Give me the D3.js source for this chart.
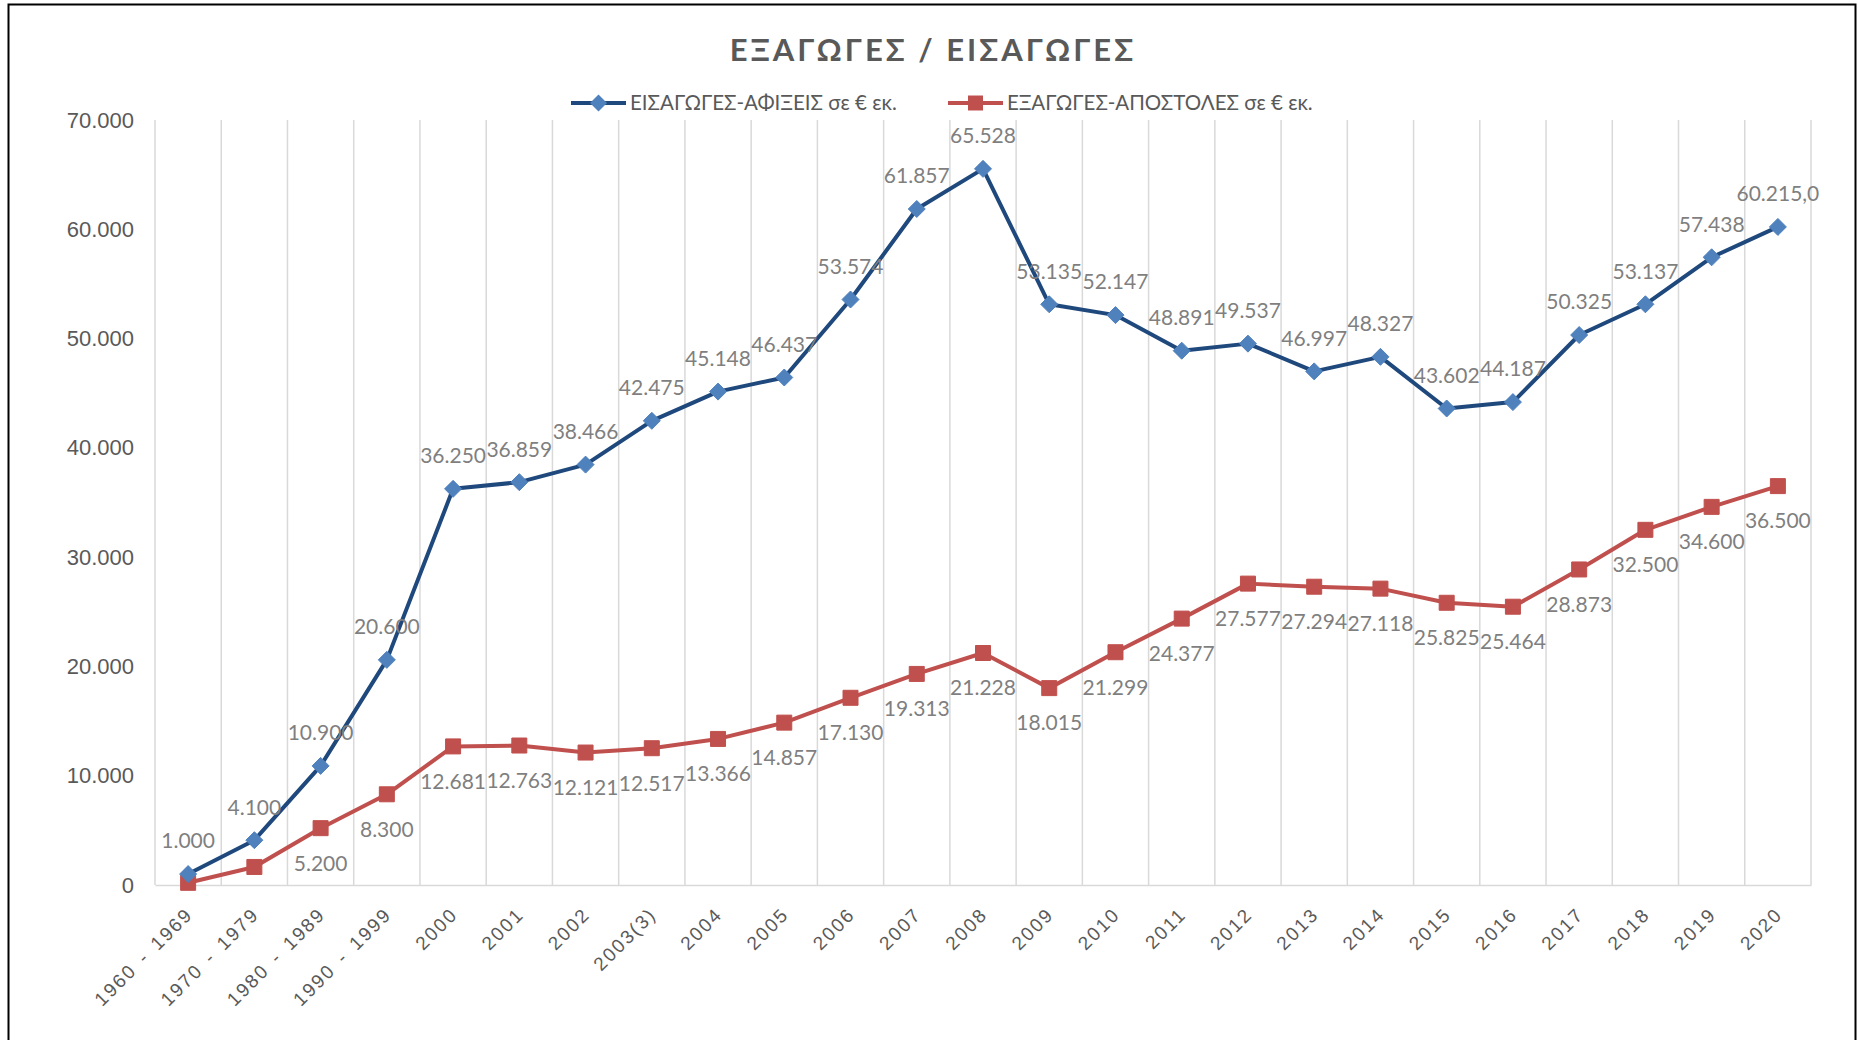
<!DOCTYPE html>
<html>
<head>
<meta charset="utf-8">
<title>ΕΞΑΓΩΓΕΣ / ΕΙΣΑΓΩΓΕΣ</title>
<script src="https://d3js.org/d3.v7.min.js"></script>
<style>
    body { margin: 0; background: #fff; }
    svg { display: block; font-family: Lato, "Open Sans", sans-serif; }
</style>
</head>
<body>
<svg width="1858" height="1040"></svg>
<script>
// ---- data ----
const categories = ["1960 - 1969", "1970 - 1979", "1980 - 1989", "1990 - 1999", "2000", "2001", "2002", "2003(3)",
    "2004", "2005", "2006", "2007", "2008", "2009", "2010", "2011", "2012", "2013", "2014", "2015", "2016",
    "2017", "2018", "2019", "2020"];
const importsValues = [1000, 4100, 10900, 20600, 36250, 36859, 38466, 42475, 45148, 46437, 53574, 61857, 65528,
    53135, 52147, 48891, 49537, 46997, 48327, 43602, 44187, 50325, 53137, 57438, 60215];
const exportsValues = [200, 1650, 5200, 8300, 12681, 12763, 12121, 12517, 13366, 14857, 17130, 19313, 21228,
    18015, 21299, 24377, 27577, 27294, 27118, 25825, 25464, 28873, 32500, 34600, 36500];
const yTicks = [0, 10000, 20000, 30000, 40000, 50000, 60000, 70000];
const importsName = "ΕΙΣΑΓΩΓΕΣ-ΑΦΙΞΕΙΣ σε € εκ.";
const exportsName = "ΕΞΑΓΩΓΕΣ-ΑΠΟΣΤΟΛΕΣ σε € εκ.";
const importsOneDecimal = ["2020"];                 // label shown as 60.215,0
const exportsNoLabel = ["1960 - 1969", "1970 - 1979"];

const el = d3.formatLocale({decimal: ",", thousands: ".", grouping: [3], currency: ["€", ""]});
const fmt0 = el.format(",.0f"), fmt1 = el.format(",.1f");

const svg = d3.select("svg");
const plotLeft = 155, plotRight = 1811, plotTop = 120, plotBottom = 885;
const blue = "#1f497d", blueMark = "#4f81bd", red = "#c0504d";
const grey = "#595959", labelGrey = "#7f7f7f", gridGrey = "#d9d9d9";

// frame
svg.append("rect")
    .attr("x", 8.5).attr("y", 4.5).attr("width", 1847).attr("height", 1060)
    .attr("fill", "none").attr("stroke", "#000").attr("stroke-width", 2);

const x = d3.scaleBand().domain(categories).range([plotLeft, plotRight]);
const y = d3.scaleLinear().domain([0, 70000]).range([plotBottom, plotTop]);
const cx = d => x(d) + x.bandwidth() / 2;

const importsPts = categories.map((c, i) => ({cat: c, v: importsValues[i]}));
const exportsPts = categories.map((c, i) => ({cat: c, v: exportsValues[i]}));

// vertical grid lines at category borders
const borders = categories.map(c => x(c)).concat([plotRight]);
svg.append("g").selectAll("line").data(borders).join("line")
    .attr("x1", d => d).attr("x2", d => d)
    .attr("y1", plotTop).attr("y2", plotBottom)
    .attr("stroke", gridGrey).attr("stroke-width", 1.5);

// x axis
const xAxis = svg.append("g").attr("transform", `translate(0,${plotBottom})`)
    .call(d3.axisBottom(x).tickSize(0).tickPadding(0));
xAxis.select(".domain").attr("stroke", gridGrey).attr("stroke-width", 1.5);
xAxis.selectAll(".tick text")
    .attr("font-size", 19).attr("fill", grey).attr("font-family", null)
    .attr("letter-spacing", 2).attr("word-spacing", 3)
    .attr("text-anchor", "end").attr("y", 0).attr("dy", "0.35em")
    .attr("transform", "translate(1,26) rotate(-45)");

// y axis
const yAxis = svg.append("g").attr("transform", `translate(${plotLeft - 21},0)`)
    .call(d3.axisLeft(y).tickValues(yTicks).tickFormat(fmt0).tickSize(0).tickPadding(0));
yAxis.select(".domain").remove();
yAxis.selectAll(".tick text").attr("font-size", 22).attr("fill", grey).attr("font-family", null);

// lines
const line = d3.line().x(d => cx(d.cat)).y(d => y(d.v));
svg.append("path").attr("d", line(exportsPts))
    .attr("fill", "none").attr("stroke", red).attr("stroke-width", 4).attr("stroke-linejoin", "round");
svg.append("path").attr("d", line(importsPts))
    .attr("fill", "none").attr("stroke", blue).attr("stroke-width", 4).attr("stroke-linejoin", "round");

const diamond = "M0,-8.5L8.5,0L0,8.5L-8.5,0Z";
const square = "M-7.5,-7.5H7.5V7.5H-7.5Z";

svg.append("g").selectAll("path").data(exportsPts).join("path")
    .attr("d", square).attr("fill", red).attr("stroke", red).attr("stroke-width", 1)
    .attr("transform", d => `translate(${cx(d.cat)},${y(d.v)})`);
svg.append("g").selectAll("path").data(importsPts).join("path")
    .attr("d", diamond).attr("fill", blueMark).attr("stroke", blueMark).attr("stroke-width", 1)
    .attr("transform", d => `translate(${cx(d.cat)},${y(d.v)})`);

// data labels
svg.append("g").selectAll("text").data(exportsPts.filter(d => !exportsNoLabel.includes(d.cat))).join("text")
    .attr("x", d => cx(d.cat)).attr("y", d => y(d.v) + 35)
    .attr("dy", "0.35em").attr("text-anchor", "middle")
    .attr("font-size", 21).attr("fill", labelGrey)
    .text(d => fmt0(d.v));
svg.append("g").selectAll("text").data(importsPts).join("text")
    .attr("x", d => cx(d.cat)).attr("y", d => y(d.v) - 33)
    .attr("dy", "0.35em").attr("text-anchor", "middle")
    .attr("font-size", 21).attr("fill", labelGrey)
    .text(d => importsOneDecimal.includes(d.cat) ? fmt1(d.v) : fmt0(d.v));

// title
svg.append("text").attr("x", 933).attr("y", 50).attr("dy", "0.35em")
    .attr("text-anchor", "middle").attr("font-size", 31).attr("font-weight", "bold")
    .attr("letter-spacing", 3).attr("fill", grey)
    .text("ΕΞΑΓΩΓΕΣ / ΕΙΣΑΓΩΓΕΣ");

// legend
const legend = [
    {name: importsName, color: blue, mark: blueMark, shape: diamond, x: 571},
    {name: exportsName, color: red, mark: red, shape: square, x: 948}
];
const lg = svg.append("g").selectAll("g").data(legend).join("g")
    .attr("transform", d => `translate(${d.x},103)`);
lg.append("line").attr("x1", 0).attr("x2", 55)
    .attr("stroke", d => d.color).attr("stroke-width", 4);
lg.append("path").attr("d", d => d.shape).attr("fill", d => d.mark)
    .attr("transform", "translate(27.5,0)");
lg.append("text").attr("x", 59).attr("dy", "0.35em")
    .attr("font-size", 20.5).attr("fill", grey)
    .text(d => d.name);
</script>
</body>
</html>
